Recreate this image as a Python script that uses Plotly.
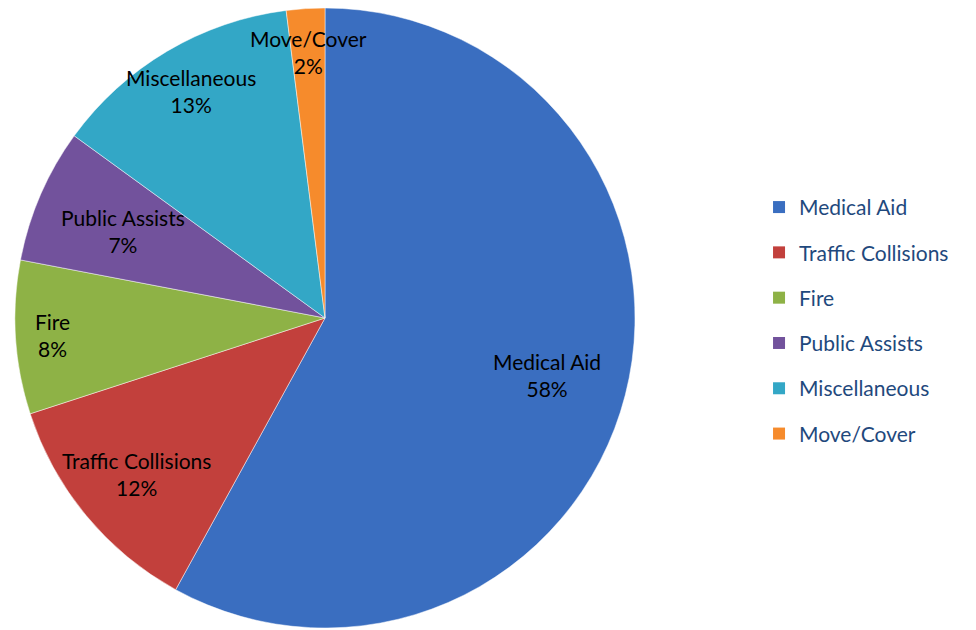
import math
import plotly.graph_objects as go

categories = ["Medical Aid", "Traffic Collisions", "Fire", "Public Assists", "Miscellaneous", "Move/Cover"]
shares = [58, 12, 8, 7, 13, 2]
colors = ["#3A6EC0", "#C2403C", "#8EB246", "#72529C", "#33A7C6", "#F68B2C"]
# how far out along each slice's bisector its label sits (fraction of radius)
label_radius = [0.74, 0.79, 0.88, 0.71, 0.85, 0.86]

W, H = 976, 630
OFF = 8  # page body margin
cx, cy, R = 325 - OFF, 318 - OFF, 310  # pie centre / radius in figure pixels
FONT = "Lato, Carlito, sans-serif"

fig = go.Figure()
fig.add_trace(go.Pie(
    labels=categories,
    values=shares,
    sort=False,
    direction="clockwise",
    rotation=0,
    marker=dict(colors=colors, line=dict(color="rgba(255,255,255,0.6)", width=0.8)),
    textinfo="none",
    showlegend=False,
    domain=dict(x=[(cx - R) / W, (cx + R) / W],
                y=[1 - (cy + R) / H, 1 - (cy - R) / H]),
    hoverinfo="label+percent",
))

total = sum(shares)
cum = 0
for name, v, rf in zip(categories, shares, label_radius):
    mid = (cum + v / 2) / total * 2 * math.pi
    cum += v
    px = cx + rf * R * math.sin(mid)
    py = cy - rf * R * math.cos(mid)
    fig.add_annotation(
        x=px / W, y=1 - py / H, xref="paper", yref="paper",
        text=f"{name}<br>{round(v / total * 100)}%",
        showarrow=False, xanchor="center", yanchor="middle",
        font=dict(family=FONT, size=21, color="black"), align="center",
    )

for name, col in zip(categories, colors):
    fig.add_trace(go.Scatter(
        x=[None], y=[None], mode="markers", name=name, legendgroup=name,
        marker=dict(symbol="square", size=14, color=col),
    ))

fig.update_layout(
    width=W, height=H,
    margin=dict(l=0, r=0, t=0, b=0),
    paper_bgcolor="white", plot_bgcolor="white",
    xaxis=dict(visible=False), yaxis=dict(visible=False),
    legend=dict(x=0.7695, y=0.716, xanchor="left", yanchor="top",
                font=dict(family=FONT, size=21, color="#1F497D"),
                tracegroupgap=15, itemsizing="constant", bgcolor="rgba(0,0,0,0)"),
)

fig.write_html("out.html")
